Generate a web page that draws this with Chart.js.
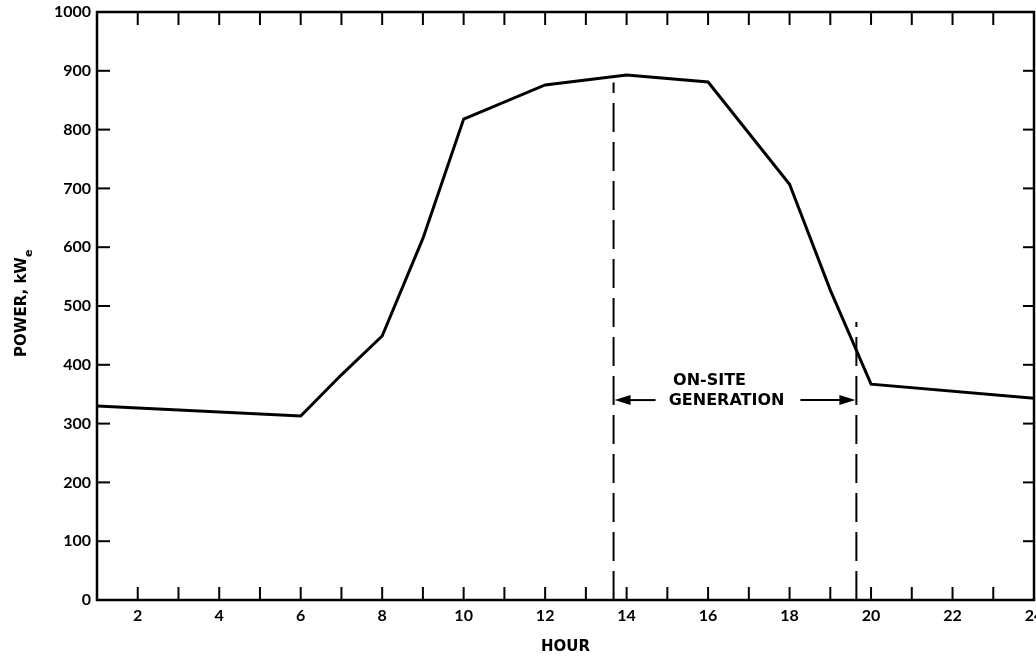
<!DOCTYPE html>
<html>
<head>
<meta charset="utf-8">
<script src="https://cdn.jsdelivr.net/npm/chart.js@4"></script>
<style>
  html, body { margin: 0; padding: 0; background: #fff; }
  #wrap { width: 1036px; height: 656px; position: relative; }
</style>
</head>
<body>
<div id="wrap"><canvas id="grafico"></canvas></div>
<script>
// valores
const horas = [1, 6, 7, 8, 9, 10, 12, 14, 16, 18, 19, 20, 24];
const potencia = [330, 313, 383, 449, 615, 818, 876, 893, 881, 707, 527, 367, 343];
const inicioGeracao = 13.68;
const fimGeracao = 19.64;
const topoInicio = 880;
const topoFim = 473;
const nivelSeta = 340;
const textoGeracao = ['ON-SITE', 'GENERATION'];

const fonteNum = 'Lato, "DejaVu Sans", sans-serif';
const fonteTxt = '"DejaVu Sans", sans-serif';

const moldura = {
    id: 'moldura',
    afterDraw(chart) {
        const { ctx, chartArea: a, scales: { x, y } } = chart;
        ctx.save();
        ctx.strokeStyle = '#000';
        ctx.fillStyle = '#000';
        ctx.lineWidth = 2.5;
        ctx.strokeRect(a.left, a.top, a.right - a.left, a.bottom - a.top);

        const linha = (x1, y1, x2, y2) => {
            ctx.beginPath();
            ctx.moveTo(x1, y1);
            ctx.lineTo(x2, y2);
            ctx.stroke();
        };

        // marcas para dentro em todos os lados
        ctx.lineWidth = 2;
        x.ticks.forEach(t => {
            const px = x.getPixelForValue(t.value);
            linha(px, a.bottom, px, a.bottom - 13);
            linha(px, a.top, px, a.top + 13);
        });
        y.ticks.forEach(t => {
            const py = y.getPixelForValue(t.value);
            linha(a.left, py, a.left + 13, py);
            linha(a.right, py, a.right - 11, py);
        });

        // setas de geração local
        const xa = x.getPixelForValue(inicioGeracao);
        const xb = x.getPixelForValue(fimGeracao);
        const ys = y.getPixelForValue(nivelSeta);
        ctx.lineWidth = 2;
        linha(xa + 14, ys, xa + 42, ys);
        linha(xb - 56, ys, xb - 14, ys);
        ctx.beginPath();
        ctx.moveTo(xa + 1, ys);
        ctx.lineTo(xa + 17, ys - 5);
        ctx.lineTo(xa + 17, ys + 5);
        ctx.closePath();
        ctx.fill();
        ctx.beginPath();
        ctx.moveTo(xb - 1, ys);
        ctx.lineTo(xb - 17, ys - 5);
        ctx.lineTo(xb - 17, ys + 5);
        ctx.closePath();
        ctx.fill();

        ctx.font = 'bold 16px ' + fonteTxt;
        ctx.textAlign = 'center';
        ctx.textBaseline = 'middle';
        ctx.fillText(textoGeracao[0], xa + 96, ys - 19);
        ctx.fillText(textoGeracao[1], xa + 113, ys + 1);

        // título do eixo y com subscrito
        ctx.translate(26, 303);
        ctx.rotate(-Math.PI / 2);
        ctx.textAlign = 'left';
        ctx.textBaseline = 'alphabetic';
        ctx.font = 'bold 15px ' + fonteTxt;
        const principal = 'POWER, kW';
        const w = ctx.measureText(principal).width;
        const x0 = -(w + 8) / 2;
        ctx.fillText(principal, x0, 0);
        ctx.font = 'bold 11px ' + fonteTxt;
        ctx.fillText('e', x0 + w, 6);
        ctx.restore();
    }
};

const ctx = document.getElementById('grafico').getContext('2d');

new Chart(ctx, {
    type: 'line',
    data: {
        datasets: [
            {
                data: horas.map((h, i) => ({ x: h, y: potencia[i] })),
                borderColor: '#000',
                borderWidth: 3,
                pointRadius: 0,
                tension: 0
            },
            {
                data: [{ x: inicioGeracao, y: 0 }, { x: inicioGeracao, y: topoInicio }],
                borderColor: '#000',
                borderWidth: 2,
                borderDash: [29, 10],
                pointRadius: 0
            },
            {
                data: [{ x: fimGeracao, y: 0 }, { x: fimGeracao, y: topoFim }],
                borderColor: '#000',
                borderWidth: 2,
                borderDash: [29, 10],
                pointRadius: 0
            }
        ]
    },
    options: {
        responsive: true,
        maintainAspectRatio: false,
        animation: false,
        layout: { padding: { top: 12, right: 2, left: 0, bottom: 0 } },
        plugins: {
            legend: { display: false },
            tooltip: { enabled: false }
        },
        scales: {
            x: {
                type: 'linear',
                min: 1,
                max: 24,
                afterFit: s => {
                    s.height = 56;
                    s.paddingLeft = 0;
                    s.paddingRight = 0;
                },
                grid: { drawOnChartArea: false, drawTicks: false },
                border: { display: false },
                ticks: {
                    stepSize: 1,
                    autoSkip: false,
                    maxRotation: 0,
                    padding: 6,
                    color: '#000',
                    font: { family: fonteNum, size: 16, weight: 'bold' },
                    callback: v => (v % 2 === 0 ? String(v) : '')
                },
                title: {
                    display: true,
                    text: 'HOUR',
                    color: '#000',
                    padding: { top: 5, bottom: 0 },
                    font: { family: fonteTxt, size: 15, weight: 'bold' }
                }
            },
            y: {
                min: 0,
                max: 1000,
                afterFit: s => {
                    s.width = 97;
                    s.paddingTop = 0;
                    s.paddingBottom = 0;
                },
                grid: { drawOnChartArea: false, drawTicks: false },
                border: { display: false },
                ticks: {
                    stepSize: 100,
                    padding: 6,
                    color: '#000',
                    font: { family: fonteNum, size: 16, weight: 'bold' },
                    callback: v => String(v)
                }
            }
        }
    },
    plugins: [moldura]
});
</script>
</body>
</html>
